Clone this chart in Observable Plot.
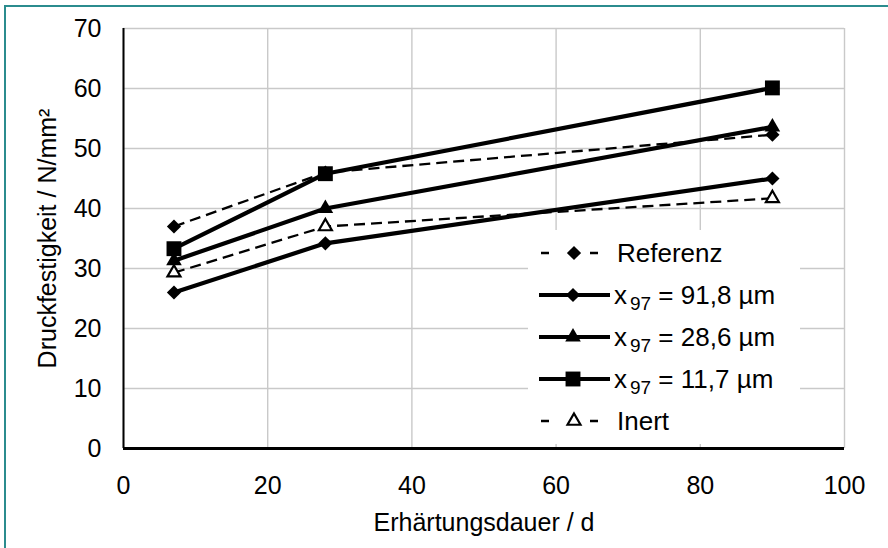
<!DOCTYPE html>
<html>
<head>
<meta charset="utf-8">
<script src="https://cdn.jsdelivr.net/npm/d3@7"></script>
<script src="https://cdn.jsdelivr.net/npm/@observablehq/plot@0.6"></script>
<style>
  html, body { margin: 0; padding: 0; background: #fff; }
  #wrap { position: relative; width: 888px; height: 548px; overflow: hidden; font-family: "Liberation Sans", Arial, sans-serif; }
  #border { position: absolute; left: 4px; top: 5px; width: 900px; height: 600px; border-left: 2px solid #2b8c8e; border-top: 2px solid #2b8c8e; box-sizing: border-box; pointer-events: none; }
  #legend { position: absolute; left: 528px; top: 230px; width: 272px; height: 214px; background: #fff; }
</style>
</head>
<body>
<div id="wrap"><div id="border"></div></div>
<script>
// ---- data ----
const days = [7, 28, 90];
const referenz = [37.0, 46.0, 52.3];
const x918 = [26.0, 34.2, 45.0];
const x286 = [31.3, 40.0, 53.6];
const x117 = [33.3, 45.8, 60.1];
const inert = [29.3, 37.0, 41.7];

const xTicks = [0, 20, 40, 60, 80, 100];
const yTicks = [0, 10, 20, 30, 40, 50, 60, 70];
const xTitle = ["Erhärtungsdauer / d"];
const yTitle = ["Druckfestigkeit / N/mm²"];

const seriesNames = ["Referenz", "x97 = 91,8 µm", "x97 = 28,6 µm", "x97 = 11,7 µm", "Inert"];
const seriesValues = [referenz, x918, x286, x117, inert];
const seriesDashed = [true, false, false, false, true];
const seriesSymbol = ["diamond2", "diamond2", "triangle", "square", "triangle2"];
const seriesR = [6.4, 6.4, 5.8, 8.4, 6.2];

const rows = seriesNames.map((name, i) =>
  days.map((d, j) => ({ series: name, i, day: d, value: seriesValues[i][j] }))
);

const FONT = "Liberation Sans, Arial, sans-serif";

const marks = [
  Plot.gridX(xTicks, { stroke: "#c9c9c9", strokeOpacity: 1, strokeWidth: 1.4 }),
  Plot.gridY(yTicks, { stroke: "#c9c9c9", strokeOpacity: 1, strokeWidth: 1.4 }),
  Plot.axisX(xTicks, { tickSize: 0, tickPadding: 28, fontSize: 25, label: null, fill: "#000" }),
  Plot.axisY(yTicks, { tickSize: 0, tickPadding: 22, fontSize: 25, label: null, fill: "#000" }),
  Plot.ruleX([0], { stroke: "#000", strokeWidth: 2 }),
  Plot.ruleY([0], { stroke: "#000", strokeWidth: 3 }),
  Plot.text(xTitle, { frameAnchor: "bottom", dy: 82, text: d => d, fontSize: 25, fill: "#000" }),
  Plot.text(yTitle, { frameAnchor: "left", textAnchor: "middle", dx: -76, rotate: -90, text: d => d, fontSize: 25, fill: "#000" })
];

rows.forEach((data, i) => {
  marks.push(Plot.line(data, {
    x: "day", y: "value", stroke: "#000",
    strokeWidth: seriesDashed[i] ? 2.3 : 4.2,
    strokeDasharray: seriesDashed[i] ? "11,6" : null,
    strokeLinecap: "butt"
  }));
  const sym = seriesSymbol[i];
  const hollow = sym === "triangle2";
  marks.push(Plot.dot(data, {
    x: "day", y: "value", symbol: sym, r: seriesR[i],
    fill: hollow ? "#fff" : "#000",
    stroke: "#000", strokeWidth: hollow ? 2.2 : 0
  }));
});

const chart = Plot.plot({
  width: 888,
  height: 548,
  marginLeft: 123,
  marginRight: 44,
  marginTop: 28,
  marginBottom: 100,
  x: { domain: [0, 100] },
  y: { domain: [0, 70] },
  style: { fontFamily: FONT, background: "transparent", color: "#000" },
  marks
});
const wrap = document.getElementById("wrap");
wrap.insertBefore(chart, wrap.firstChild);

// ---- legend ----
const legend = document.createElement("div");
legend.id = "legend";
wrap.insertBefore(legend, document.getElementById("border"));
const svg = d3.select(legend).append("svg").attr("width", 272).attr("height", 214)
  .style("font-family", FONT);
const d3sym = { diamond2: d3.symbolDiamond2, triangle: d3.symbolTriangle, square: d3.symbolSquare, triangle2: d3.symbolTriangle2 };
seriesNames.forEach((name, i) => {
  const cy = 23 + i * 42;
  const g = svg.append("g").attr("transform", `translate(0,${cy})`);
  if (seriesDashed[i]) {
    g.append("line").attr("x1", 13).attr("x2", 70).attr("y1", 0).attr("y2", 0)
      .attr("stroke", "#000").attr("stroke-width", 2.3).attr("stroke-dasharray", "8,41");
  } else {
    g.append("line").attr("x1", 11).attr("x2", 82).attr("y1", 0).attr("y2", 0)
      .attr("stroke", "#000").attr("stroke-width", 4.2);
  }
  const hollow = seriesSymbol[i] === "triangle2";
  const r = seriesR[i];
  g.append("path")
    .attr("transform", `translate(${seriesDashed[i] ? 46 : 45},0)`)
    .attr("d", d3.symbol(d3sym[seriesSymbol[i]], r * r * Math.PI)())
    .attr("fill", hollow ? "#fff" : "#000")
    .attr("stroke", "#000").attr("stroke-width", hollow ? 2.2 : 0);
  const t = g.append("text").attr("y", 9).attr("font-size", 26).attr("fill", "#000");
  if (name.startsWith("x97")) {
    t.attr("x", 86);
    t.append("tspan").text("x");
    t.append("tspan").attr("dx", 3).attr("dy", 6).attr("font-size", 19).text("97");
    t.append("tspan").attr("dy", -6).text(name.slice(3));
  } else {
    t.attr("x", 89).text(name);
  }
});
</script>
</body>
</html>
